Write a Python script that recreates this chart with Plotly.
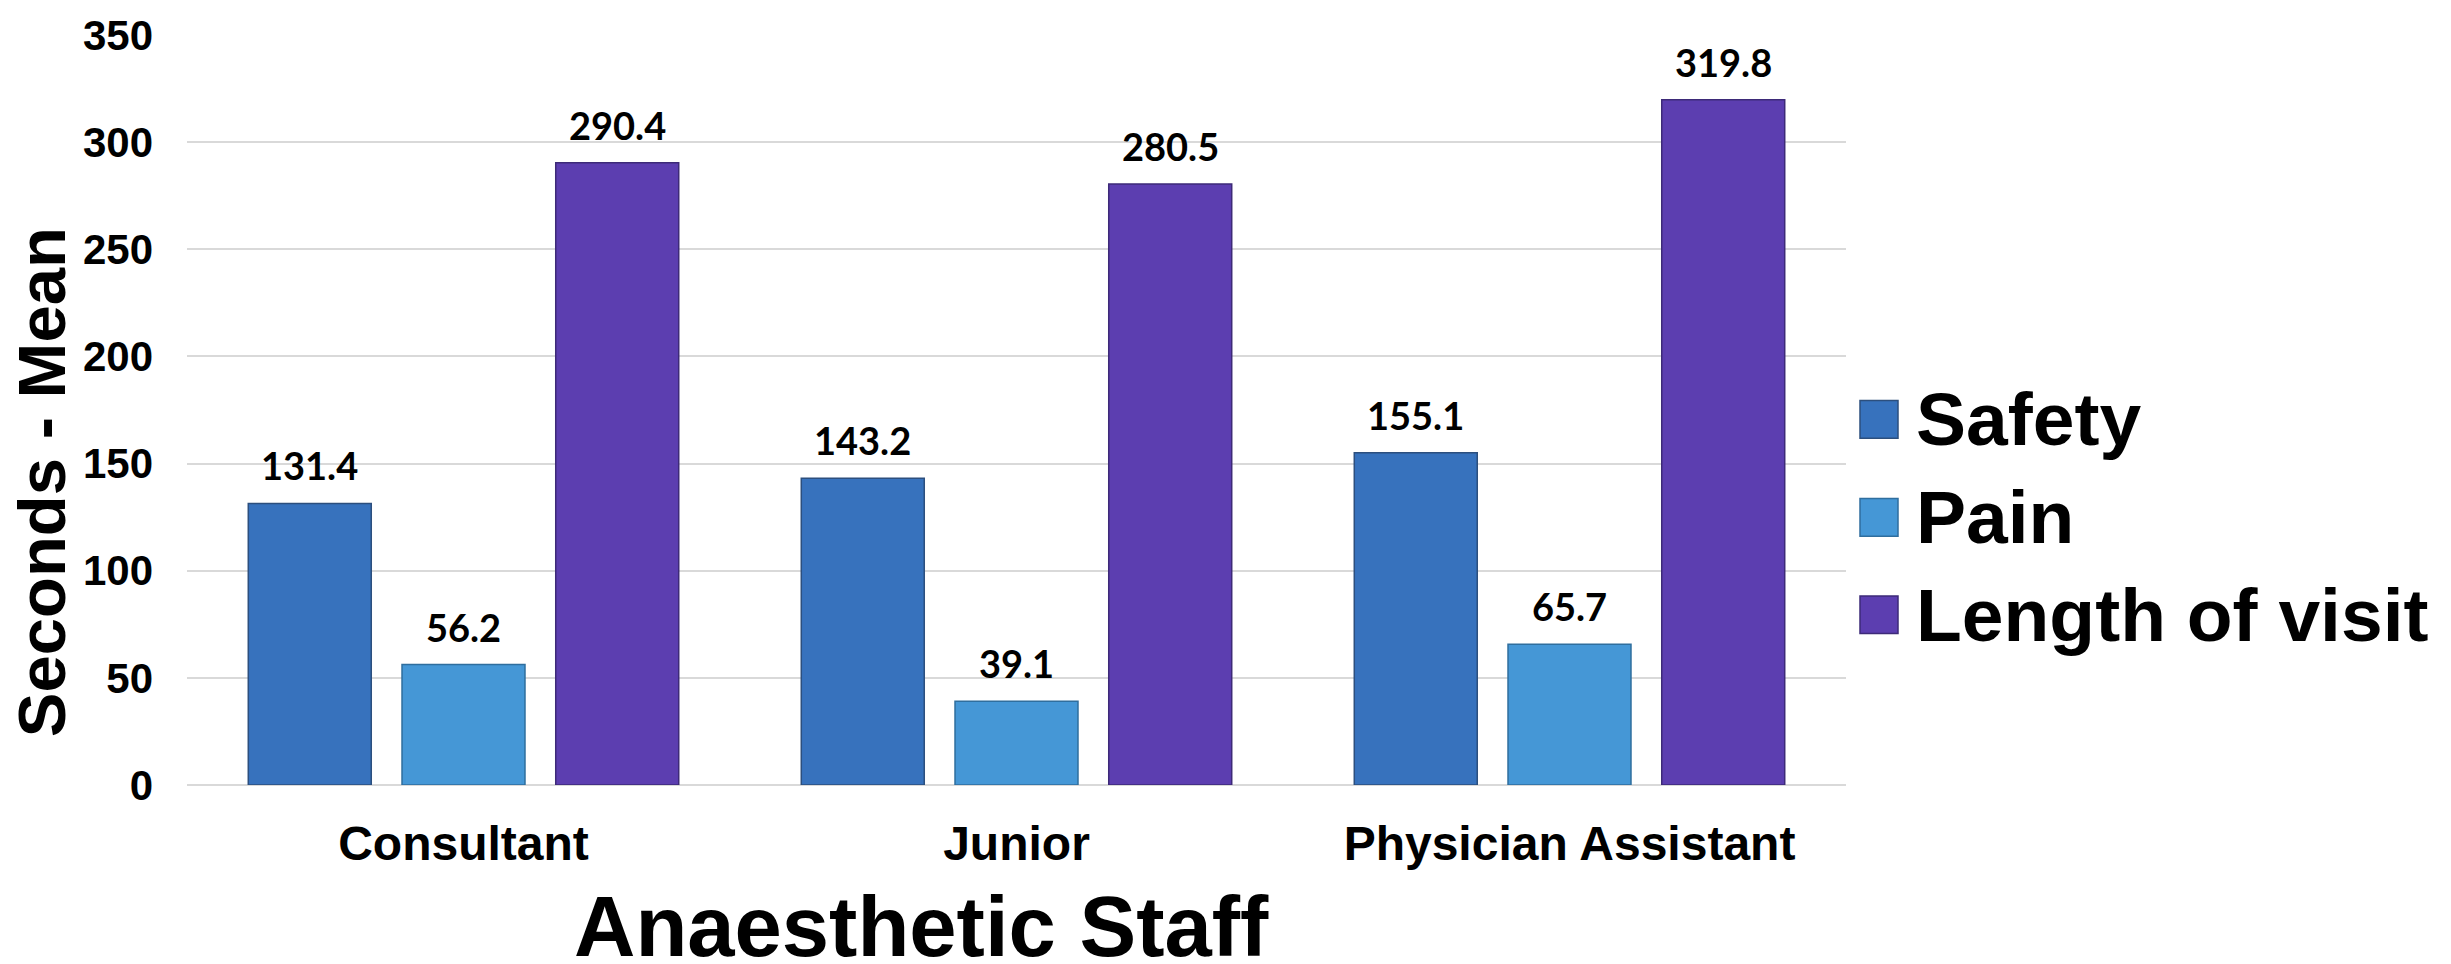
import plotly.graph_objects as go

# ---- data ----
categories = ["Consultant", "Junior", "Physician Assistant"]
series_names = ["Safety", "Pain", "Length of visit"]
safety = [131.4, 143.2, 155.1]
pain = [56.2, 39.1, 65.7]
length_of_visit = [290.4, 280.5, 319.8]
y_ticks = [0, 50, 100, 150, 200, 250, 300, 350]

# ---- styles / layout ----
W, H = 2451, 964
L, R, T, B = 187, 605, 27, 179
PW, PH = W - L - R, H - T - B
colors = ["#3772bd", "#4597d6", "#5c3eb0"]
line_colors = ["#2c4f7e", "#2f6e9e", "#3d2a78"]
BARGAP, GROUPGAP = 0.166, 0.2
FONT = "Liberation Sans, Arial, sans-serif"


def px_x(px):
    return (px - L) / PW


def px_y(py):
    return (H - B - py) / PH


values = [safety, pain, length_of_visit]

fig = go.Figure()
for name, vals, col, lc in zip(series_names, values, colors, line_colors):
    fig.add_trace(go.Bar(
        name=name, x=categories, y=vals,
        marker=dict(color=col, line=dict(color=lc, width=1.5)),
        showlegend=False,
    ))

# data labels above bars
cat_w = PW / len(categories)
slot = cat_w * (1 - BARGAP) / len(series_names)
annotations = []
for i, vals in enumerate(values):
    shift = (i - (len(series_names) - 1) / 2) * slot
    for c, v in zip(categories, vals):
        annotations.append(dict(
            x=c, y=v, xref="x", yref="y", text=f"{v:.1f}",
            showarrow=False, xshift=shift, yshift=13, yanchor="bottom",
            font=dict(family="Lato, Liberation Sans, sans-serif", size=38,
                      color="black", weight="bold"),
        ))

# axis titles (offset from plot centre as in the reference)
annotations.append(dict(
    x=px_x(41), y=px_y(479), xref="paper", yref="paper",
    text="Seconds - Mean", textangle=-90, showarrow=False,
    xanchor="center", yanchor="middle",
    font=dict(family=FONT, size=67, color="black", weight="bold"),
))
annotations.append(dict(
    x=px_x(921), y=px_y(928), xref="paper", yref="paper",
    text="Anaesthetic Staff", showarrow=False,
    xanchor="center", yanchor="middle",
    font=dict(family=FONT, size=85, color="black", weight="bold"),
))

# custom legend
shapes = []
leg_centers = [415.5, 514.5, 613]
for name, col, lc, cy in zip(series_names, colors, line_colors, leg_centers):
    shapes.append(dict(
        type="rect", xref="paper", yref="paper",
        x0=px_x(1860), x1=px_x(1898), y0=px_y(cy + 19), y1=px_y(cy - 19),
        fillcolor=col, line=dict(color=lc, width=1.5),
    ))
    annotations.append(dict(
        x=px_x(1914), y=px_y(cy), xref="paper", yref="paper",
        text=name, showarrow=False, xanchor="left", yanchor="middle",
        font=dict(family=FONT, size=75, color="black", weight="bold"),
    ))

fig.update_layout(
    width=W, height=H,
    margin=dict(l=L, r=R, t=T, b=B, pad=0),
    paper_bgcolor="white", plot_bgcolor="white",
    barmode="group", bargap=BARGAP, bargroupgap=GROUPGAP,
    showlegend=False,
    annotations=annotations, shapes=shapes,
    xaxis=dict(
        tickfont=dict(family=FONT, size=48, color="black", weight="bold"),
        showline=False, ticks="", ticklabelstandoff=26,
    ),
    yaxis=dict(
        range=[0, 350], tickvals=y_ticks,
        tickfont=dict(family=FONT, size=42, color="black", weight="bold"),
        showgrid=True, gridcolor="#d9d9d9", gridwidth=2,
        zeroline=True, zerolinecolor="#d9d9d9", zerolinewidth=2,
        showline=False, ticks="", ticklabelstandoff=33,
    ),
)

fig.write_html(
    "out.html",
    config={"displayModeBar": False},
    post_script="document.body.style.margin='0';document.body.style.overflow='hidden';",
)
